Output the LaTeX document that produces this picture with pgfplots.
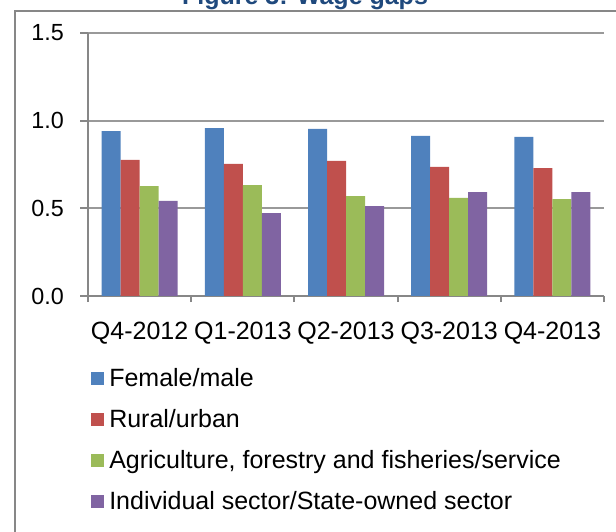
\documentclass[border=0pt]{standalone}
\usepackage{pgfplots}
\pgfplotsset{compat=1.18}
\usepackage{fontspec}
\setmainfont{Liberation Sans}
\definecolor{cblue}{HTML}{4F81BD}
\definecolor{cred}{HTML}{C0504D}
\definecolor{cgreen}{HTML}{9BBB59}
\definecolor{cpurple}{HTML}{8064A2}
\definecolor{axgray}{HTML}{878787}
\definecolor{titlecol}{HTML}{1F497D}
\begin{document}
\begin{tikzpicture}[x=0.75pt,y=0.75pt]
\useasboundingbox (0,0) rectangle (616,531);
\clip (0,0) rectangle (616,531);
\draw[axgray, line width=1.5pt] (15,-10) -- (15,520) -- (640,520);
\node[font=\bfseries\fontsize{18.75}{22}\selectfont, text=titlecol, anchor=base] at (305,526) {Figure 3: Wage gaps};
\begin{axis}[
  at={(66pt,176.25pt)}, anchor=south west,
  scale only axis, width=387pt, height=197.25pt,
  ymin=0, ymax=1.5,
  xmin=-0.5, xmax=4.5,
  ybar=0pt, bar width=14.25pt,
  axis x line*=bottom, axis y line*=left,
  axis line style={axgray, line width=1.5pt, -},
  xtick={0,1,2,3,4},
  xticklabels={Q4-2012,Q1-2013,Q2-2013,Q3-2013,Q4-2013},
  minor xtick={-0.5,0.5,1.5,2.5,3.5,4.5},
  every major x tick/.append style={draw=none},
  every minor x tick/.append style={axgray, line width=1.5pt},
  minor tick length=4.5pt,
  ytick={0,0.5,1,1.5},
  yticklabels={0.0,0.5,1.0,1.5},
  every major y tick/.append style={axgray, line width=1.5pt},
  major tick length=6pt,
  tick align=outside,
  ymajorgrids,
  major grid style={axgray!85, line width=1.5pt},
  x tick label style={font=\fontsize{18.75}{22}\selectfont, inner sep=0pt, anchor=north, yshift=-13.5pt},
  y tick label style={font=\fontsize{17.5}{21}\selectfont, inner sep=0pt, anchor=east, xshift=-12pt},
  legend style={at={(0.0058,-0.271)}, anchor=north west, draw=none, fill=none,
    inner sep=0pt, row sep=12.75pt, column sep=0pt,
    font=\fontsize{18.75}{22}\selectfont,
    nodes={inner sep=0pt, text height=14pt, text depth=4pt, anchor=base west}},
  legend cell align=left,
  legend image code/.code={\fill[#1,draw=none] (0pt,0.75pt) rectangle (9.75pt,10.5pt);},
]
\addplot[fill=cblue, draw=none] coordinates {(0,0.941) (1,0.958) (2,0.953) (3,0.913) (4,0.907)};
\addplot[fill=cred, draw=none] coordinates {(0,0.776) (1,0.753) (2,0.770) (3,0.736) (4,0.730)};
\addplot[fill=cgreen, draw=none] coordinates {(0,0.627) (1,0.633) (2,0.570) (3,0.559) (4,0.553)};
\addplot[fill=cpurple, draw=none] coordinates {(0,0.542) (1,0.473) (2,0.513) (3,0.593) (4,0.593)};
\legend{{\hspace{3.75pt}Female/male},{\hspace{3.75pt}Rural/urban},{\hspace{3.75pt}Agriculture, forestry and fisheries/service},{\hspace{3.75pt}Individual sector/State-owned sector}}
\end{axis}
\end{tikzpicture}
\end{document}
